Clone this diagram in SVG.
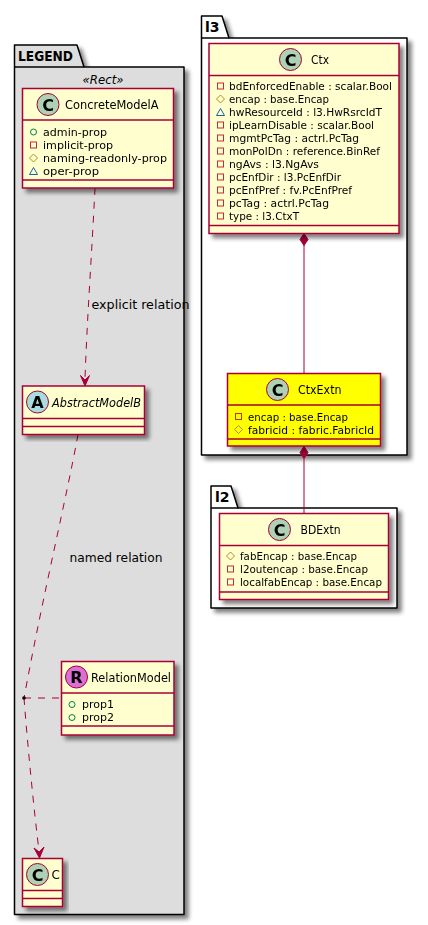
<svg xmlns="http://www.w3.org/2000/svg" width="428" height="925" viewBox="0 0 428 925">
<style>
text{font-family:"DejaVu Sans",sans-serif;fill:#000}
.pk{stroke:#000;stroke-width:1.5;stroke-linejoin:round}
.pl{font-weight:bold;font-size:14px}
.box{fill:#FEFECE;stroke:#A80036;stroke-width:1.5}
.box.y{fill:#FFFF00}
.sep{stroke:#A80036;stroke-width:1.5;fill:none}
.nm{font-size:12px}
.m{font-size:11px}
.lb{font-size:12px}
.L{font-weight:bold;font-size:16px;text-anchor:middle}
.c{fill:#ADD1B2;stroke:#A80036;stroke-width:1}
.a{fill:#A9DCDF;stroke:#A80036;stroke-width:1}
.r{fill:#DA70D6;stroke:#A80036;stroke-width:1}
.pub{fill:none;stroke:#038048;stroke-width:1}
.pri{fill:none;stroke:#C82930;stroke-width:1}
.pro{fill:none;stroke:#B38D22;stroke-width:1}
.pkg{fill:none;stroke:#1963A0;stroke-width:1}
.line{fill:none;stroke:#A80036;stroke-width:1}
.dash{stroke-dasharray:7 7}
.head{fill:#A80036;stroke:#A80036;stroke-width:1}
</style>
<defs>
<filter id="sh" x="-15%" y="-15%" width="130%" height="130%">
<feGaussianBlur in="SourceAlpha" stdDeviation="2"/>
<feOffset dx="4" dy="4"/>
<feComponentTransfer><feFuncA type="linear" slope="0.5"/></feComponentTransfer>
<feMerge><feMergeNode/><feMergeNode in="SourceGraphic"/></feMerge>
</filter>
<rect id="iPri" x="-3" y="-3" width="6" height="6" class="pri"/>
<circle id="iPub" r="3" class="pub"/>
<path id="iPro" d="M-4 0L0-4L4 0L0 4Z" class="pro"/>
<path id="iPkg" d="M-4 3.500L0-3.500L4 3.500Z" class="pkg"/>
</defs>

<g id="pkg-legend">
<path class="pk" filter="url(#sh)" fill="#DDDDDD" d="M14.500 67V45H77L84 67H184V914.500H14.500Z"/>
<path class="pk" fill="none" d="M14.500 67H84"/>
<text class="pl" x="18" y="61" textLength="55" lengthAdjust="spacingAndGlyphs">LEGEND</text>
<text x="82.500" y="84" font-size="12" font-style="italic" textLength="41" lengthAdjust="spacingAndGlyphs">«Rect»</text>
</g>
<g id="pkg-l3">
<path class="pk" filter="url(#sh)" fill="#FFFFFF" d="M201.500 38V16H222L229 38H407V455H201.500Z"/>
<path class="pk" fill="none" d="M201.500 38H229"/>
<text class="pl" x="205" y="32">l3</text>
</g>
<g id="pkg-l2">
<path class="pk" filter="url(#sh)" fill="#FFFFFF" d="M211 508V486H231L238 508H397V608H211Z"/>
<path class="pk" fill="none" d="M211 508H238"/>
<text class="pl" x="215" y="502">l2</text>
</g>

<g id="connectors">
<path class="line dash" d="M95 188C92 250 87 320 85 379"/>
<path class="head" d="M85 386L80.500 375.500L85 380L89.500 375.500Z"/>
<path class="line dash" d="M78 434.500C66 500 44 590 24 698"/>
<path class="line dash" d="M24 698H61.500"/>
<path class="line dash" d="M24 698C28 750 34 810 39 851"/>
<path class="head" d="M39.500 858L34 848L39.200 852L44 847Z"/>
<circle cx="24" cy="698" r="1.800" fill="#000"/>
<path class="line" d="M304 233V373"/>
<path class="head" d="M304 233.500L308 239.500L304 245.500L300 239.500Z"/>
<path class="line" d="M304 446V513"/>
<path class="head" d="M304 446.500L308 452.500L304 458.500L300 452.500Z"/>
</g>

<g id="ConcreteModelA" filter="url(#sh)">
<rect class="box" x="22.500" y="88.500" width="151" height="99.500"/>
<path class="sep" d="M22.500 120H173.500M22.500 180H173.500"/>
<circle class="c" cx="48" cy="104.500" r="11"/><text class="L" x="48" y="110.500">C</text>
<text class="nm" x="65" y="109" textLength="93.500" lengthAdjust="spacingAndGlyphs">ConcreteModelA</text>
<use href="#iPub" x="33.500" y="132"/><text class="m" x="43" y="135.500" textLength="64" lengthAdjust="spacingAndGlyphs">admin-prop</text>
<use href="#iPri" x="33.500" y="145"/><text class="m" x="43" y="148.500" textLength="70" lengthAdjust="spacingAndGlyphs">implicit-prop</text>
<use href="#iPro" x="33.500" y="158"/><text class="m" x="43" y="161.500" textLength="124" lengthAdjust="spacingAndGlyphs">naming-readonly-prop</text>
<use href="#iPkg" x="33.500" y="171"/><text class="m" x="43" y="174.500" textLength="56" lengthAdjust="spacingAndGlyphs">oper-prop</text>
</g>
<g id="AbstractModelB" filter="url(#sh)">
<rect class="box" x="22.500" y="386" width="122" height="48.500"/>
<path class="sep" d="M22.500 418.500H144.500M22.500 426.500H144.500"/>
<circle class="a" cx="37.500" cy="402" r="11"/><text class="L" x="37.500" y="408">A</text>
<text class="nm" x="52" y="406.500" font-style="italic" textLength="89" lengthAdjust="spacingAndGlyphs">AbstractModelB</text>
</g>
<g id="RelationModel" filter="url(#sh)">
<rect class="box" x="61.500" y="661.500" width="112.500" height="73.500"/>
<path class="sep" d="M61.500 693H174M61.500 726H174"/>
<circle class="r" cx="76.500" cy="677" r="11"/><text class="L" x="76.500" y="683">R</text>
<text class="nm" x="91" y="681.500" textLength="80" lengthAdjust="spacingAndGlyphs">RelationModel</text>
<use href="#iPub" x="72" y="704.500"/><text class="m" x="82" y="708" textLength="32" lengthAdjust="spacingAndGlyphs">prop1</text>
<use href="#iPub" x="72" y="717.500"/><text class="m" x="82" y="721" textLength="32" lengthAdjust="spacingAndGlyphs">prop2</text>
</g>
<g id="C" filter="url(#sh)">
<rect class="box" x="22.500" y="858.500" width="40" height="48"/>
<path class="sep" d="M22.500 890.500H62.500M22.500 898.500H62.500"/>
<circle class="c" cx="37.500" cy="874.500" r="11"/><text class="L" x="37.500" y="880.500">C</text>
<text class="nm" x="51.500" y="878.500">C</text>
</g>
<g id="Ctx" filter="url(#sh)">
<rect class="box" x="209" y="43.500" width="190" height="190"/>
<path class="sep" d="M209 75.500H399M209 225.500H399"/>
<circle class="c" cx="290.500" cy="59.500" r="11"/><text class="L" x="290.500" y="65.500">C</text>
<text class="nm" x="311" y="64" textLength="18" lengthAdjust="spacingAndGlyphs">Ctx</text>
<use href="#iPri" x="220.500" y="86"/><text class="m" x="229" y="90" textLength="163" lengthAdjust="spacingAndGlyphs">bdEnforcedEnable : scalar.Bool</text>
<use href="#iPro" x="220.500" y="99"/><text class="m" x="229" y="103" textLength="100" lengthAdjust="spacingAndGlyphs">encap : base.Encap</text>
<use href="#iPkg" x="220.500" y="112"/><text class="m" x="229" y="116" textLength="153" lengthAdjust="spacingAndGlyphs">hwResourceId : l3.HwRsrcIdT</text>
<use href="#iPri" x="220.500" y="125"/><text class="m" x="229" y="129" textLength="145" lengthAdjust="spacingAndGlyphs">ipLearnDisable : scalar.Bool</text>
<use href="#iPri" x="220.500" y="138"/><text class="m" x="229" y="142" textLength="130" lengthAdjust="spacingAndGlyphs">mgmtPcTag : actrl.PcTag</text>
<use href="#iPri" x="220.500" y="151"/><text class="m" x="229" y="155" textLength="151" lengthAdjust="spacingAndGlyphs">monPolDn : reference.BinRef</text>
<use href="#iPri" x="220.500" y="164"/><text class="m" x="229" y="168" textLength="90" lengthAdjust="spacingAndGlyphs">ngAvs : l3.NgAvs</text>
<use href="#iPri" x="220.500" y="177"/><text class="m" x="229" y="181" textLength="112" lengthAdjust="spacingAndGlyphs">pcEnfDir : l3.PcEnfDir</text>
<use href="#iPri" x="220.500" y="190"/><text class="m" x="229" y="194" textLength="123" lengthAdjust="spacingAndGlyphs">pcEnfPref : fv.PcEnfPref</text>
<use href="#iPri" x="220.500" y="203"/><text class="m" x="229" y="207" textLength="100" lengthAdjust="spacingAndGlyphs">pcTag : actrl.PcTag</text>
<use href="#iPri" x="220.500" y="216"/><text class="m" x="229" y="220" textLength="70" lengthAdjust="spacingAndGlyphs">type : l3.CtxT</text>
</g>
<g id="CtxExtn" filter="url(#sh)">
<rect class="box y" x="227.500" y="373.500" width="153" height="72.500"/>
<path class="sep" d="M227.500 405H380.500M227.500 439H380.500"/>
<circle class="c" cx="277.500" cy="389.500" r="11"/><text class="L" x="277.500" y="395.500">C</text>
<text class="nm" x="298" y="394" textLength="43.500" lengthAdjust="spacingAndGlyphs">CtxExtn</text>
<use href="#iPri" x="238.500" y="416.500"/><text class="m" x="248" y="420.500" textLength="100" lengthAdjust="spacingAndGlyphs">encap : base.Encap</text>
<use href="#iPro" x="238.500" y="429.500"/><text class="m" x="248" y="433.500" textLength="126" lengthAdjust="spacingAndGlyphs">fabricid : fabric.FabricId</text>
</g>
<g id="BDExtn" filter="url(#sh)">
<rect class="box" x="219.500" y="513.500" width="169" height="86"/>
<path class="sep" d="M219.500 545.500H388.500M219.500 592H388.500"/>
<circle class="c" cx="279.500" cy="529.500" r="11"/><text class="L" x="279.500" y="535.500">C</text>
<text class="nm" x="300.500" y="534" textLength="40" lengthAdjust="spacingAndGlyphs">BDExtn</text>
<use href="#iPro" x="230.500" y="556"/><text class="m" x="240" y="560" textLength="117" lengthAdjust="spacingAndGlyphs">fabEncap : base.Encap</text>
<use href="#iPri" x="230.500" y="569"/><text class="m" x="240" y="573" textLength="128" lengthAdjust="spacingAndGlyphs">l2outencap : base.Encap</text>
<use href="#iPri" x="230.500" y="582"/><text class="m" x="240" y="586" textLength="142" lengthAdjust="spacingAndGlyphs">localfabEncap : base.Encap</text>
</g>
<g id="labels">
<text class="lb" x="91.500" y="309" textLength="98" lengthAdjust="spacingAndGlyphs">explicit relation</text>
<text class="lb" x="69.500" y="562" textLength="93" lengthAdjust="spacingAndGlyphs">named relation</text>
</g>
</svg>
